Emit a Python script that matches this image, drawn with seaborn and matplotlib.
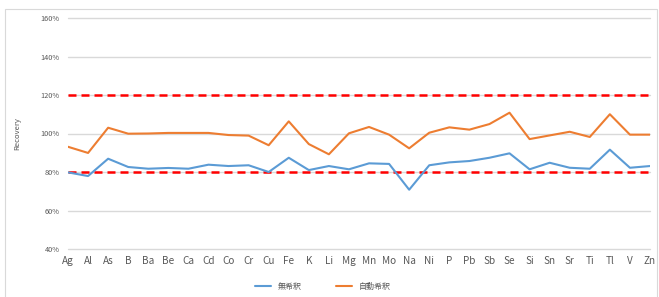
import matplotlib
matplotlib.use("Agg")
import matplotlib.pyplot as plt
import seaborn as sns
import pandas as pd
from matplotlib.patches import Rectangle
from matplotlib.ticker import PercentFormatter

elements = ["Ag", "Al", "As", "B", "Ba", "Be", "Ca", "Cd", "Co", "Cr", "Cu", "Fe", "K", "Li",
            "Mg", "Mn", "Mo", "Na", "Ni", "P", "Pb", "Sb", "Se", "Si", "Sn", "Sr", "Ti", "Tl", "V", "Zn"]
no_dilution = [79.8, 77.9, 86.9, 82.6, 81.7, 82.1, 81.7, 83.8, 83.1, 83.5, 80.0, 87.4, 81.0, 83.1,
               81.4, 84.5, 84.2, 70.8, 83.5, 85.0, 85.7, 87.4, 89.7, 81.4, 84.8, 82.2, 81.7, 91.6, 82.2, 83.1]
auto_dilution = [93.1, 89.9, 103.0, 99.9, 100.0, 100.3, 100.3, 100.3, 99.2, 98.9, 93.9, 106.3, 94.5, 89.2,
                 100.1, 103.4, 99.4, 92.3, 100.4, 103.2, 102.0, 104.9, 110.8, 97.1, 99.0, 100.9, 98.2, 110.0, 99.4, 99.4]
series_names = ["無希釈", "自動希釈"]
limits = [120, 80]
yticks = [40, 60, 80, 100, 120, 140, 160]

df = pd.DataFrame({
    "Element": elements * 2,
    "Recovery": no_dilution + auto_dilution,
    "Series": [series_names[0]] * len(elements) + [series_names[1]] * len(elements),
})

sns.set_theme(style="white")
plt.rcParams["font.family"] = ["Noto Sans CJK JP", "DejaVu Sans"]

fig = plt.figure(figsize=(6.59, 2.97), dpi=100)
ax = fig.add_axes([68 / 659, 1 - 249 / 297, (650 - 68) / 659, (249 - 18) / 297])

for y in yticks:
    ax.axhline(y, color="#d9d9d9", lw=1.0, zorder=0, clip_on=False)
for y in limits:
    ax.axhline(y, color="#ff0000", lw=1.8, dashes=(3.2, 2), zorder=3)

sns.lineplot(data=df, x="Element", y="Recovery", hue="Series", sort=False,
             palette=["#5B9BD5", "#ED7D31"], linewidth=1.5, ax=ax, zorder=4)

ax.set_xlim(0, len(elements) - 1)
ax.set_ylim(40, 160)
ax.set_yticks(yticks)
ax.yaxis.set_major_formatter(PercentFormatter(decimals=0))
ax.tick_params(axis="y", labelsize=5.3, colors="#595959", length=0, pad=6)
ax.tick_params(axis="x", labelsize=7.2, colors="#595959", length=0, pad=5)
ax.set_xlabel("")
ax.set_ylabel("Recovery", fontsize=5.5, color="#595959", labelpad=14)
for s in ax.spines.values():
    s.set_visible(False)

ax.legend_.remove()
handles, labels = ax.get_legend_handles_labels()
fig.legend(handles, labels, loc="center", bbox_to_anchor=(0.49, 0.035), ncol=2, frameon=False,
           fontsize=5.8, handlelength=2.0, columnspacing=4.3, handletextpad=0.8,
           labelcolor="#595959")

fig.patches.append(Rectangle((5 / 659, -0.02), 652 / 659, 1 - 9 / 297 + 0.02,
                             transform=fig.transFigure, fill=False, edgecolor="#d9d9d9", lw=0.8))

fig.savefig("out.png", dpi=100)
